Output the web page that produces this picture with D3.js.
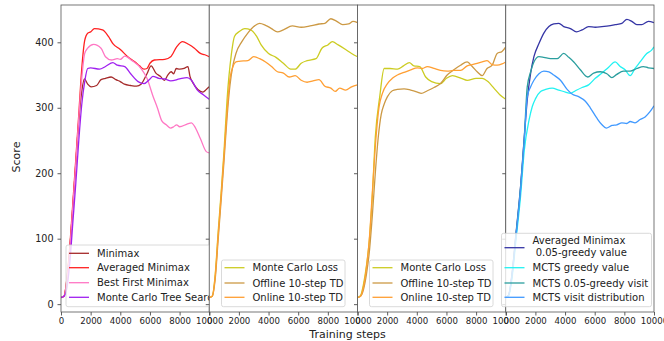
<!DOCTYPE html>
<html lang="en">
<head>
<meta charset="UTF-8">
<title>Score vs training steps</title>
<script src="https://d3js.org/d3.v7.min.js"></script>
<style>
  body { margin: 0; background: #fff; }
  svg { font-family: "DejaVu Sans", sans-serif; }
</style>
</head>
<body>
<svg id="chart" width="664" height="341"></svg>
<script>
// ---- data: [training step, score] ----
const xTicks = [0, 2000, 4000, 6000, 8000, 10000];
const yTicks = [0, 100, 200, 300, 400];

// panel 1
const minimax = [[0,11],[200,12],[400,38],[600,86],[800,150],[1000,215],[1200,280],[1400,325],[1580,344],[1800,336],[2030,332],[2400,334],[2700,343],[3000,345],[3380,347],[3700,343],[4000,340],[4280,336],[4700,334],[5100,333],[5400,336],[5800,352],[6080,364],[6400,353],[6700,348],[6980,342],[7200,350],[7430,355],[7600,352],[7770,360],[8000,359],[8300,360],[8560,363],[8700,348],[8900,338],[9230,328],[9570,324],[9800,328],[10000,332]];
const avgMinimax = [[0,10],[200,12],[400,40],[600,90],[800,155],[1000,222],[1200,290],[1400,360],[1600,403],[1800,414],[2000,416],[2250,421],[2800,419],[3200,409],[3500,398],[4000,389],[4500,378],[5000,370],[5300,364],[5600,359],[5800,360],[6000,368],[6300,373],[7000,374],[7400,378],[7800,393],[8200,401],[8600,397],[9000,391],[9400,383],[9700,381],[10000,378]];
const bestFirst = [[0,11],[200,12],[400,36],[600,84],[800,150],[1000,215],[1200,285],[1400,345],[1600,383],[1800,391],[2200,397],[2700,391],[3000,378],[3400,373],[3800,375],[4000,374],[4300,379],[4800,372],[5400,360],[5800,345],[6200,318],[6500,300],[6800,280],[7100,274],[7400,269],[7600,271],[7800,274],[8000,271],[8500,275],[8800,277],[9000,272],[9400,253],[9800,233],[10000,231]];
const mcts = [[0,10],[200,12],[400,25],[600,65],[800,125],[1000,185],[1200,250],[1400,305],[1600,340],[1800,360],[2000,361],[2600,359],[3000,363],[3500,369],[3800,365],[4300,363],[4700,352],[5200,340],[5600,337],[6000,344],[6200,348],[6600,345],[7000,344],[7400,341],[8000,344],[8500,346],[8800,342],[9200,327],[9600,320],[10000,313]];

// panel 2
const mcLoss2 = [[0,10],[200,12],[400,45],[600,110],[800,170],[1000,235],[1200,312],[1500,383],[1700,409],[2000,416],[2400,421],[2800,419],[3200,409],[3500,396],[4000,383],[4500,377],[5000,368],[5500,359],[5800,359],[6200,368],[6600,372],[7200,375],[7600,391],[8000,396],[8300,401],[8700,396],[9200,389],[9600,383],[10000,378]];
const offline2 = [[0,10],[200,12],[400,38],[600,98],[800,158],[1000,220],[1200,285],[1400,335],[1600,365],[1800,383],[2200,401],[2600,414],[3000,424],[3400,429],[3800,426],[4200,421],[4600,416],[5000,419],[5600,425],[6200,423],[6800,425],[7400,428],[7800,429],[8200,436],[8600,432],[9000,427],[9400,428],[9700,432],[10000,430]];
const online2 = [[0,10],[200,12],[400,42],[600,105],[800,165],[1000,228],[1200,295],[1400,345],[1600,363],[1800,370],[2000,371],[2600,372],[3000,378],[3400,375],[3800,370],[4200,363],[4600,355],[5000,353],[5400,347],[5800,349],[6200,342],[6600,339],[7000,341],[7400,343],[7800,333],[8200,330],[8500,325],[8800,330],[9200,327],[9600,332],[10000,335]];

// panel 3
const mcLoss3 = [[0,10],[200,13],[400,30],[600,58],[800,98],[1000,165],[1200,255],[1500,317],[1800,360],[2200,360],[2700,359],[3100,364],[3500,369],[3800,364],[4200,363],[4600,347],[5000,340],[5600,337],[6000,345],[6400,349],[7000,345],[7400,342],[8000,345],[8400,345],[8800,340],[9200,330],[9600,320],[10000,313]];
const offline3 = [[0,10],[200,12],[400,22],[600,45],[800,80],[1000,135],[1200,200],[1400,255],[1600,290],[1790,305],[2020,317],[2350,326],[2690,328],[3140,329],[3590,327],[4040,324],[4300,322],[4710,326],[5160,331],[5600,337],[6050,350],[6500,358],[6950,365],[7400,370],[7740,363],[8070,355],[8410,349],[8740,360],[9080,365],[9420,383],[9750,386],[10000,393]];
const online3 = [[0,10],[200,12],[400,26],[600,55],[800,100],[1000,170],[1200,240],[1460,302],[1680,322],[2020,337],[2350,345],[2690,350],[3140,354],[3590,358],[4040,361],[4370,360],[4710,363],[5160,360],[5600,357],[6050,356],[6500,357],[6950,357],[7400,364],[7740,366],[8070,368],[8410,370],[8740,372],[9080,366],[9420,365],[9750,367],[10000,370]];

// panel 4
const avgGreedy = [[0,10],[200,14],[400,42],[700,110],[1000,180],[1250,255],[1450,312],[1680,353],[1900,378],[2240,398],[2570,414],[2910,424],[3240,428],[3580,429],[3910,424],[4360,421],[4770,416],[5150,419],[5590,424],[6040,423],[6490,424],[6940,425],[7380,427],[7830,429],[8170,435],[8500,432],[8840,427],[9170,427],[9620,432],[10000,430]];
const mctsGreedy = [[0,10],[200,13],[400,35],[700,100],[1000,165],[1250,235],[1570,281],[1790,302],[2010,314],[2350,325],[2690,328],[3130,330],[3580,327],[4030,324],[4360,322],[4700,326],[5150,331],[5590,335],[6040,345],[6490,353],[6940,362],[7380,370],[7720,363],[8050,358],[8390,349],[8720,360],[9060,370],[9510,383],[9840,388],[10000,393]];
const mctsVisit = [[0,10],[200,14],[400,40],[700,108],[1000,178],[1250,255],[1450,332],[1680,355],[1900,370],[2240,378],[2570,377],[3020,375],[3470,375],[3910,383],[4250,377],[4590,370],[5030,358],[5530,347],[5930,353],[6380,355],[6820,352],[7160,346],[7490,351],[7940,356],[8390,356],[8840,360],[9280,363],[9620,361],[10000,360]];
const mctsDist = [[0,10],[200,14],[400,40],[700,106],[1000,175],[1250,250],[1450,317],[1680,332],[1900,342],[2240,352],[2570,356],[2910,355],[3240,350],[3690,342],[4140,328],[4470,321],[4920,317],[5370,310],[5700,300],[6150,284],[6490,274],[6780,269],[7160,273],[7490,274],[7830,277],[8170,276],[8390,279],[8720,277],[9060,282],[9400,286],[9730,294],[10000,303]];

const panels = [
  { series: [
      { name: ["Minimax"], color: "#a52a2a", values: minimax },
      { name: ["Averaged Minimax"], color: "#ff2020", values: avgMinimax },
      { name: ["Best First Minimax"], color: "#ff77c4", values: bestFirst },
      { name: ["Monte Carlo Tree Search"], color: "#a020f0", values: mcts } ],
    legend: { x: 66, y: 245, w: 170, rows: [253.3, 267.7, 282.7, 297.3] } },
  { series: [
      { name: ["Monte Carlo Loss"], color: "#cccc22", values: mcLoss2 },
      { name: ["Offline 10-step TD"], color: "#cc9944", values: offline2 },
      { name: ["Online 10-step TD"], color: "#ff9f33", values: online2 } ],
    legend: { x: 221.5, y: 260, w: 123.5, rows: [267.7, 283, 297.3] } },
  { series: [
      { name: ["Monte Carlo Loss"], color: "#cccc22", values: mcLoss3 },
      { name: ["Offline 10-step TD"], color: "#cc9944", values: offline3 },
      { name: ["Online 10-step TD"], color: "#ff9f33", values: online3 } ],
    legend: { x: 369.5, y: 260, w: 123.5, rows: [267.7, 283, 297.3] } },
  { series: [
      { name: ["Averaged Minimax", " 0.05-greedy value"], color: "#3535a5", values: avgGreedy },
      { name: ["MCTS greedy value"], color: "#22f2f2", values: mctsGreedy },
      { name: ["MCTS 0.05-greedy visit"], color: "#2a9e9e", values: mctsVisit },
      { name: ["MCTS visit distribution"], color: "#4099ff", values: mctsDist } ],
    legend: { x: 501.5, y: 233.3, w: 150, rows: [247.7, 267.7, 283, 297.3] } }
];

// ---- layout ----
const mLeft = 61, mRight = 654, mTop = 5, mBottom = 312;
const pw = (mRight - mLeft) / panels.length;

const svg = d3.select("#chart");
const y = d3.scaleLinear().domain([-12, 457]).range([mBottom, mTop]);

panels.forEach((p, i) => {
  const x0 = mLeft + i * pw;
  const x = d3.scaleLinear().domain([0, 10000]).range([x0, x0 + pw]);
  const g = svg.append("g").attr("class", "panel");

  g.append("rect")
    .attr("x", x0).attr("y", mTop)
    .attr("width", pw).attr("height", mBottom - mTop)
    .attr("fill", "#fff");

  g.append("clipPath").attr("id", "clip" + i)
    .append("rect")
    .attr("x", x0).attr("y", mTop)
    .attr("width", pw).attr("height", mBottom - mTop);

  const line = d3.line()
    .x(d => x(d[0]))
    .y(d => y(d[1]))
    .curve(d3.curveMonotoneX);

  g.append("g").attr("clip-path", "url(#clip" + i + ")")
    .selectAll("path")
    .data(p.series)
    .join("path")
    .attr("d", d => line(d.values))
    .attr("fill", "none")
    .attr("stroke", d => d.color)
    .attr("stroke-width", 1.3);

  // x axis
  const xa = g.append("g")
    .attr("transform", `translate(0,${mBottom})`)
    .call(d3.axisBottom(x).tickValues(xTicks).tickSize(3.5).tickPadding(2).tickFormat(d3.format("d")));
  xa.select(".domain").remove();
  xa.selectAll("line").attr("stroke", "#333").attr("stroke-width", 0.8);
  xa.selectAll("text").attr("font-size", "8.6px").attr("fill", "#222").attr("font-family", "DejaVu Sans");

  // y axis (labels only on first panel)
  const ya = g.append("g")
    .attr("transform", `translate(${x0},0)`)
    .call(d3.axisLeft(y).tickValues(yTicks).tickSize(3.5).tickPadding(4)
      .tickFormat(i === 0 ? d3.format("d") : ""));
  ya.select(".domain").remove();
  ya.selectAll("line").attr("stroke", "#333").attr("stroke-width", 0.8);
  ya.selectAll("text").attr("font-size", "9.6px").attr("fill", "#222").attr("font-family", "DejaVu Sans");

  // frame
  g.append("rect")
    .attr("x", x0).attr("y", mTop)
    .attr("width", pw).attr("height", mBottom - mTop)
    .attr("fill", "none")
    .attr("stroke", "#555")
    .attr("stroke-width", 0.8);

  // legend
  const L = p.legend;
  const lg = g.append("g").attr("class", "legend");
  lg.append("rect")
    .attr("x", L.x).attr("y", L.y)
    .attr("width", L.w).attr("height", 306.7 - L.y)
    .attr("rx", 2).attr("ry", 2)
    .attr("fill", "rgba(255,255,255,0.8)")
    .attr("stroke", "#d0d0d0")
    .attr("stroke-width", 0.8);

  p.series.forEach((s, k) => {
    const cy = L.rows[k];
    lg.append("line")
      .attr("x1", L.x + 3).attr("x2", L.x + 23)
      .attr("y1", cy).attr("y2", cy)
      .attr("stroke", s.color).attr("stroke-width", 1.3);
    const t = lg.append("text")
      .attr("x", L.x + 31)
      .attr("font-size", "10px")
      .attr("fill", "#222");
    if (s.name.length === 1) {
      t.attr("y", cy + 3.6).text(s.name[0]);
    } else {
      t.attr("y", cy - 7 + 3.6).text(s.name[0]);
      lg.append("text")
        .attr("x", L.x + 31)
        .attr("y", cy + 5 + 3.6)
        .attr("font-size", "10px")
        .attr("fill", "#222")
        .style("white-space", "pre")
        .text(s.name[1]);
    }
  });
});

// axis titles
svg.append("text")
  .attr("transform", "translate(20,157) rotate(-90)")
  .attr("text-anchor", "middle")
  .attr("font-size", "11px")
  .attr("fill", "#222")
  .text("Score");

svg.append("text")
  .attr("x", 347.5)
  .attr("y", 338)
  .attr("text-anchor", "middle")
  .attr("font-size", "11px")
  .attr("fill", "#222")
  .text("Training steps");
</script>
</body>
</html>
